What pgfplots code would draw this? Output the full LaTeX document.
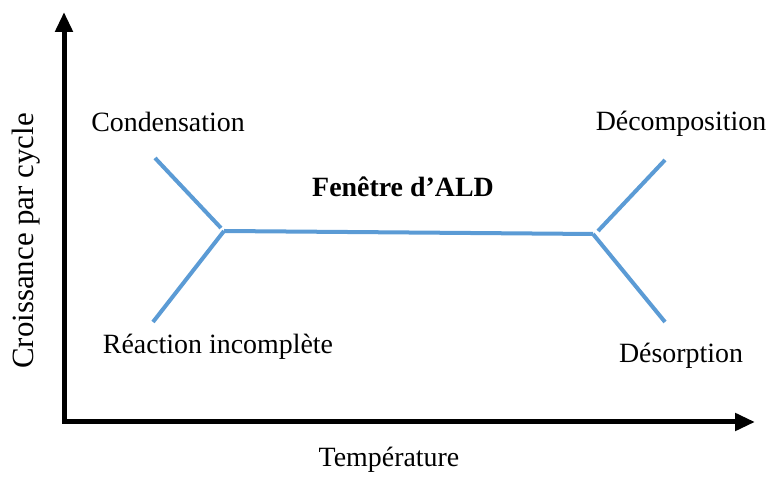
\documentclass[border=0pt]{standalone}
\usepackage{fontspec}
\setmainfont{Liberation Serif}
\usepackage{pgfplots}
\pgfplotsset{compat=1.18}
\usetikzlibrary{arrows.meta}
\definecolor{aldblue}{HTML}{5B9BD5}

\begin{document}
\begin{tikzpicture}
\begin{axis}[
hide axis,
scale only axis,
width=772bp,
height=478bp,
xmin=0, xmax=772,
ymin=0, ymax=478,
clip=false,
]
% keeps the page as large as the whole 772 x 478 frame
\addplot[draw=none] coordinates {(0,0) (772,478)};

% axes (pixel coordinates, y measured from the bottom)
\addplot[black, line width=5bp, line cap=rect, -{Triangle[length=20bp,width=17bp]}] coordinates {(64,56) (64,466)};
\addplot[black, line width=5bp, line cap=rect, -{Triangle[length=20bp,width=17bp]}] coordinates {(64,56) (755,56)};

% ALD window curve
\addplot[aldblue, line width=4bp] coordinates {(155,320) (221,250)};
\addplot[aldblue, line width=4bp] coordinates {(153,156) (224,247)};
\addplot[aldblue, line width=4bp] coordinates {(224,247) (593,244)};
\addplot[aldblue, line width=4bp] coordinates {(598,247) (665,318)};
\addplot[aldblue, line width=4bp] coordinates {(593,244) (665,156)};

\node[font=\fontsize{28}{32}\selectfont] at (axis cs:168,356) {Condensation};
\node[font=\fontsize{28}{32}\selectfont] at (axis cs:218,131) {Réaction incomplète};
\node[font=\fontsize{28}{32}\selectfont] at (axis cs:681,354) {Décomposition};
\node[font=\fontsize{28}{32}\selectfont] at (axis cs:681,122) {Désorption};
\node[font=\fontsize{28}{32}\selectfont\bfseries] at (axis cs:403,291) {Fenêtre d’ALD};
\node[font=\fontsize{28}{32}\selectfont] at (axis cs:389,18) {Température};
\node[font=\fontsize{31}{36}\selectfont, rotate=90] at (axis cs:26,237) {Croissance par cycle};
\end{axis}
\end{tikzpicture}
\end{document}
